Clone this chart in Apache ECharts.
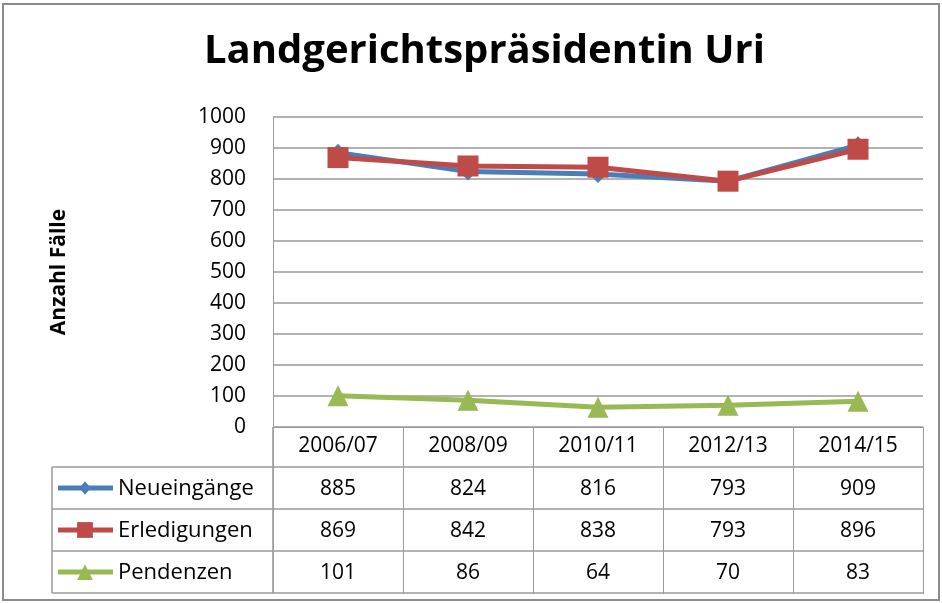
<!DOCTYPE html>
<html>
<head>
<meta charset="utf-8">
<script src="https://cdn.jsdelivr.net/npm/echarts@6/dist/echarts.min.js"></script>
<style>
  html, body { margin: 0; padding: 0; background: #fff; }
  #chart { width: 942px; height: 603px; }
</style>
</head>
<body>
<div id="chart"></div>
<script>
const categories = ['2006/07', '2008/09', '2010/11', '2012/13', '2014/15'];
const seriesNames = ['Neueingänge', 'Erledigungen', 'Pendenzen'];
const neueingaenge = [885, 824, 816, 793, 909];
const erledigungen = [869, 842, 838, 793, 896];
const pendenzen = [101, 86, 64, 70, 83];

const font = 'Open Sans';
const textSize = 21;
const gridLine = '#9a9a9a';
const colors = ['#4a7ebb', '#be4b48', '#98b954'];
const symbols = ['diamond', 'rect', 'triangle'];
const symbolSizes = [18, 21, 21];

const myChart = echarts.init(document.getElementById('chart'));

const seriesData = [neueingaenge, erledigungen, pendenzen];

myChart.setOption({
  animation: false,
  title: {
    text: 'Landgerichtspräsidentin Uri',
    left: 199,
    top: 27,
    textStyle: { fontFamily: font, fontSize: 40, fontWeight: 'bold', color: '#000' }
  },
  grid: { left: 273, right: 19, top: 117, bottom: 176 },
  xAxis: {
    type: 'category',
    data: categories,
    boundaryGap: true,
    axisLine: { show: true, lineStyle: { color: gridLine, width: 1 } },
    axisTick: { show: true, length: 167, lineStyle: { color: gridLine } },
    axisLabel: { margin: 9, fontFamily: font, fontSize: textSize, color: '#000' }
  },
  yAxis: {
    type: 'value',
    min: 0,
    max: 1000,
    interval: 100,
    name: 'Anzahl Fälle',
    nameLocation: 'middle',
    nameGap: 203,
    nameTextStyle: { fontFamily: font, fontSize: 21, fontWeight: 'bold', color: '#000' },
    axisLine: { show: true, lineStyle: { color: gridLine } },
    axisTick: { show: false },
    axisLabel: { margin: 27, fontFamily: font, fontSize: textSize, color: '#000', formatter: v => String(v) },
    splitLine: { show: true, lineStyle: { color: gridLine, width: 1.5 } }
  },
  series: seriesNames.map((name, i) => ({
    name: name,
    type: 'line',
    data: seriesData[i],
    symbol: symbols[i],
    symbolSize: symbolSizes[i],
    lineStyle: { color: colors[i], width: 5 },
    itemStyle: { color: colors[i] },
    z: 2 + i
  }))
});

// data table under the plot, placed via the axis scales
function drawTable() {
  const x0 = myChart.convertToPixel({ xAxisIndex: 0 }, categories[0]);
  const x1 = myChart.convertToPixel({ xAxisIndex: 0 }, categories[1]);
  const step = x1 - x0;
  const left = x0 - step / 2;
  const right = left + step * categories.length;
  const axisY = myChart.convertToPixel({ yAxisIndex: 0 }, 0);
  const headerH = 40, rowH = 42;
  const tableLeft = 52;
  const els = [];
  const line = (xa, ya, xb, yb) => els.push({
    type: 'line', shape: { x1: xa, y1: ya, x2: xb, y2: yb },
    style: { stroke: gridLine, lineWidth: 1.5 }
  });
  const top = axisY + headerH;
  for (let r = 0; r <= seriesNames.length; r++) {
    line(tableLeft, top + r * rowH, right, top + r * rowH);
  }
  line(tableLeft, top, tableLeft, top + rowH * seriesNames.length);
  line(left, axisY, left, top + rowH * seriesNames.length);
  seriesNames.forEach((name, r) => {
    const cy = top + rowH * r + rowH / 2;
    els.push({ type: 'line', shape: { x1: 58, y1: cy, x2: 113, y2: cy },
      style: { stroke: colors[r], lineWidth: 5 } });
    const s = symbolSizes[r] * 0.75;
    if (symbols[r] === 'diamond') {
      els.push({ type: 'polygon', shape: { points: [[85, cy - s / 2], [85 + s / 2.4, cy], [85, cy + s / 2], [85 - s / 2.4, cy]] }, style: { fill: colors[r] } });
    } else if (symbols[r] === 'rect') {
      els.push({ type: 'rect', shape: { x: 85 - s / 2, y: cy - s / 2, width: s, height: s }, style: { fill: colors[r] } });
    } else {
      els.push({ type: 'polygon', shape: { points: [[85, cy - s / 2], [85 + s / 2, cy + s / 2], [85 - s / 2, cy + s / 2]] }, style: { fill: colors[r] } });
    }
    els.push({ type: 'text', x: 118, y: cy + 1, style: { text: name, fontFamily: font, fontSize: 22, fill: '#000', align: 'left', verticalAlign: 'middle' } });
    seriesData[r].forEach((v, c) => {
      els.push({ type: 'text', x: left + step * c + step / 2, y: cy + 1,
        style: { text: String(v), fontFamily: font, fontSize: textSize, fill: '#000', align: 'center', verticalAlign: 'middle' } });
    });
  });
  // chart frame
  els.push({ type: 'rect', shape: { x: 3, y: 4, width: 936, height: 596 }, style: { fill: 'none', stroke: '#8c8c8c', lineWidth: 2 } });
  myChart.setOption({ graphic: els });
}
drawTable();
</script>
</body>
</html>
